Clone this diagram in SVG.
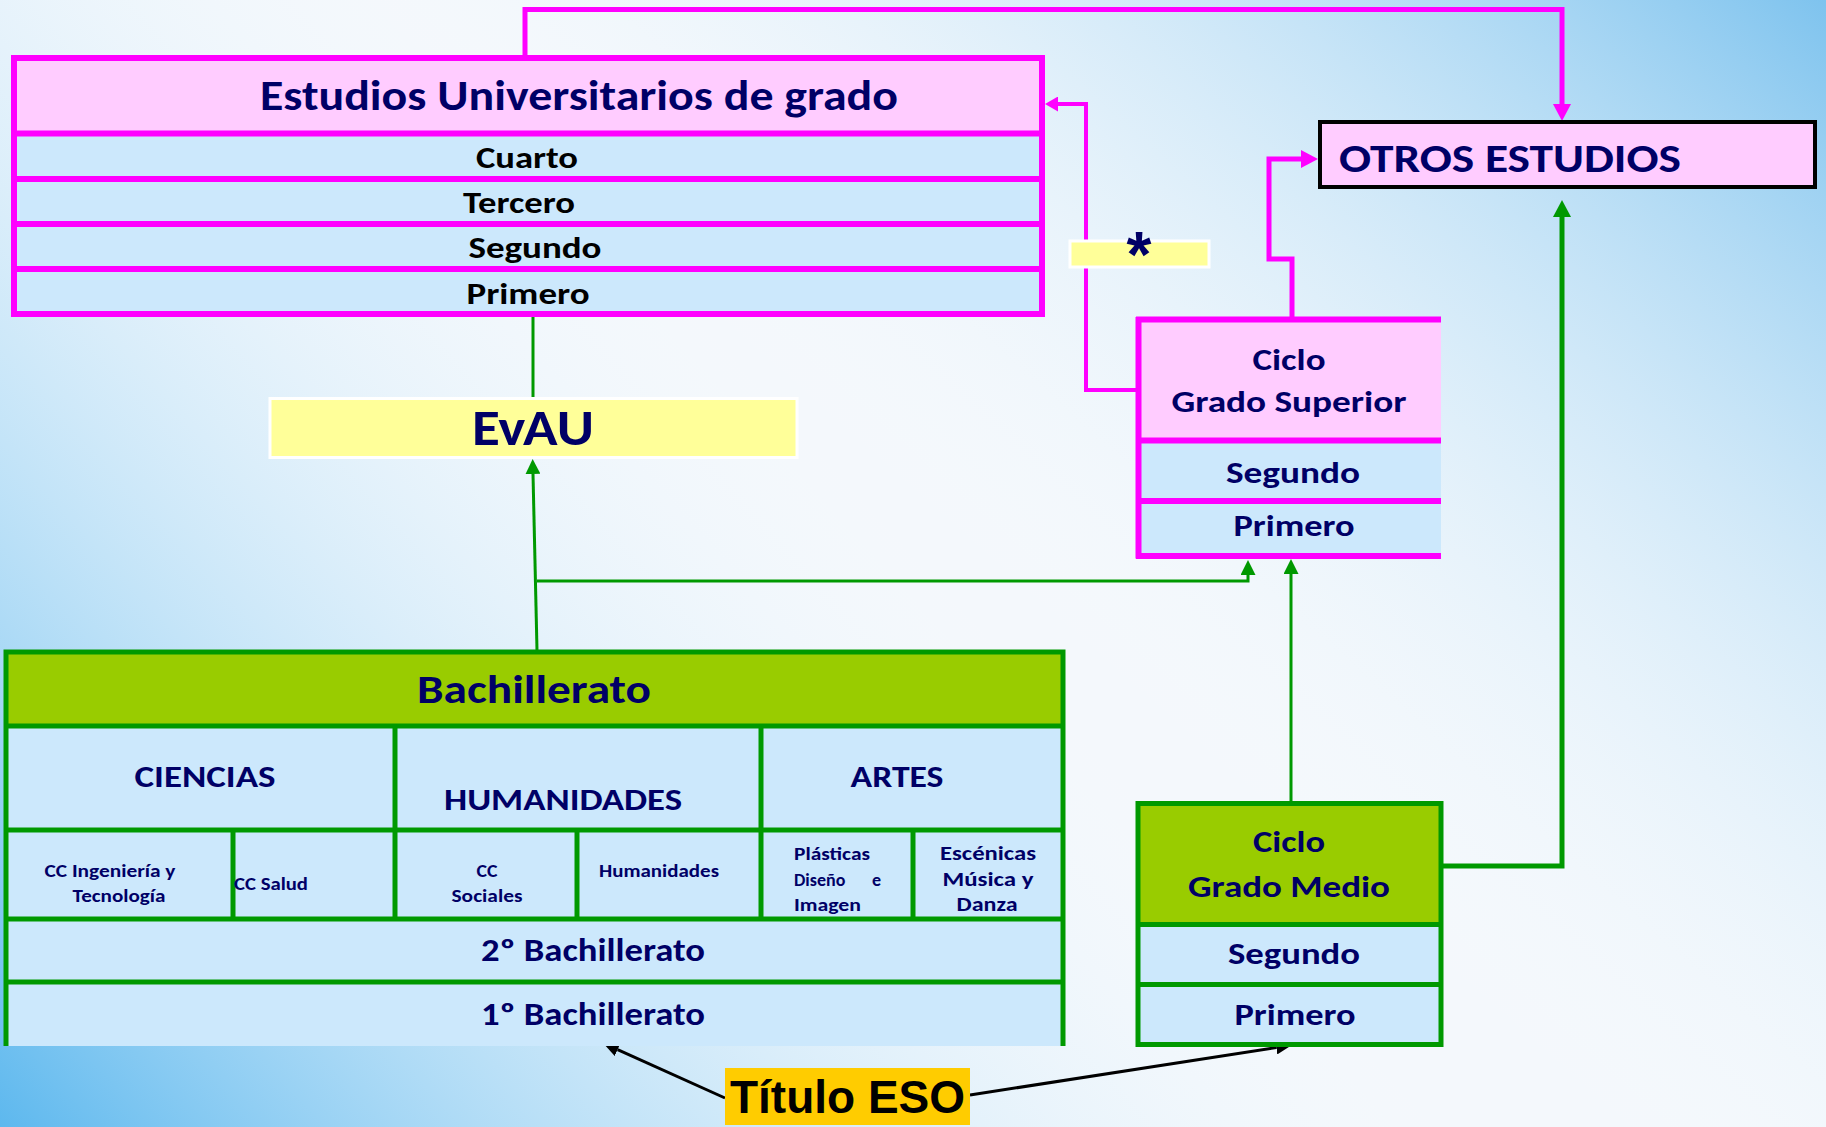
<svg xmlns="http://www.w3.org/2000/svg" width="1826" height="1127" viewBox="0 0 1826 1127">
<defs>
<linearGradient id="bgA" gradientUnits="userSpaceOnUse" x1="0" y1="1127" x2="820" y2="380">
<stop offset="0" stop-color="#5DB8EE" stop-opacity="1"/>
<stop offset="1" stop-color="#FFFFFF" stop-opacity="0"/>
</linearGradient>
<linearGradient id="bgB" gradientUnits="userSpaceOnUse" x1="1826" y1="0" x2="1150" y2="760">
<stop offset="0" stop-color="#7EC3EE" stop-opacity="1"/>
<stop offset="1" stop-color="#FFFFFF" stop-opacity="0"/>
</linearGradient>
<marker id="mP" viewBox="0 0 17 18" refX="0" refY="9" markerWidth="17" markerHeight="18" markerUnits="userSpaceOnUse" orient="auto"><path d="M0,0 L17,9 L0,18 z" fill="#FF00FF"/></marker>
<marker id="mPs" viewBox="0 0 13 15" refX="0" refY="7.5" markerWidth="13" markerHeight="15" markerUnits="userSpaceOnUse" orient="auto"><path d="M0,0 L13,7.5 L0,15 z" fill="#FF00FF"/></marker>
<marker id="mG" viewBox="0 0 15 15" refX="0" refY="7.5" markerWidth="15" markerHeight="15" markerUnits="userSpaceOnUse" orient="auto"><path d="M0,0 L15,7.5 L0,15 z" fill="#009900"/></marker>
<marker id="mGb" viewBox="0 0 17 18" refX="0" refY="9" markerWidth="17" markerHeight="18" markerUnits="userSpaceOnUse" orient="auto"><path d="M0,0 L17,9 L0,18 z" fill="#009900"/></marker>
<marker id="mK" viewBox="0 0 16 14" refX="0" refY="7" markerWidth="16" markerHeight="14" markerUnits="userSpaceOnUse" orient="auto"><path d="M0,0 L16,7 L0,14 z" fill="#000000"/></marker>
</defs>
<style>
.lbl{font-family:Carlito,Lato,"Open Sans","Liberation Sans",sans-serif;font-weight:700;fill:#000066;text-anchor:middle}
.blk{fill:#000000}
.st{text-anchor:start}
.pinkF{fill:#FFCCFF}
.blueF{fill:#CCE8FC}
.greenF{fill:#99CC00}
.pl{stroke:#FF00FF;stroke-width:6;fill:none}
.gl{stroke:#009900;stroke-width:5;fill:none}
.cp{fill:none;stroke:#FF00FF;stroke-linejoin:miter}
.cg{fill:none;stroke:#009900;stroke-linejoin:miter}
.ck{fill:none;stroke:#000000;stroke-width:3}
</style>
<rect x="0" y="0" width="1826" height="1127" fill="#F4F8FC"/>
<rect x="0" y="0" width="1826" height="1127" fill="url(#bgA)"/>
<rect x="0" y="0" width="1826" height="1127" fill="url(#bgB)"/>

<g id="connectors">
<path class="cp" stroke-width="5" d="M525,57 V9.5 H1562 V104" marker-end="url(#mP)"/>
<path class="cp" stroke-width="4" d="M1136,390 H1086 V104 H1058" marker-end="url(#mPs)"/>
<path class="cp" stroke-width="5" d="M1292,317 V259 H1269 V159 H1301" marker-end="url(#mP)"/>
<path class="cg" stroke-width="3" d="M533,317 V398"/>
<path class="cg" stroke-width="3" d="M537,650 L533,474" marker-end="url(#mG)"/>
<path class="cg" stroke-width="3" d="M537,581 H1248 V575" marker-end="url(#mG)"/>
<path class="cg" stroke-width="3" d="M1291,801 V574" marker-end="url(#mG)"/>
<path class="cg" stroke-width="5" d="M1441,866 H1562 V217" marker-end="url(#mGb)"/>
<path class="ck" d="M725,1098 L617.6,1049.6" marker-end="url(#mK)"/>
<path class="ck" d="M970,1095 L1276.2,1047.5" marker-end="url(#mK)"/>
</g>

<g id="n-univ">
<rect class="pinkF" x="14" y="58" width="1028" height="75.5"/>
<rect class="blueF" x="14" y="133.5" width="1028" height="180.5"/>
<rect class="pl" x="14" y="58" width="1028" height="256"/>
<path class="pl" d="M14,133.5 H1042 M14,179 H1042 M14,224 H1042 M14,269 H1042"/>
<text class="lbl" x="579" y="110" font-size="42" textLength="638" lengthAdjust="spacingAndGlyphs">Estudios Universitarios de grado</text>
<text class="lbl blk" x="527" y="168" font-size="31" textLength="102" lengthAdjust="spacingAndGlyphs">Cuarto</text>
<text class="lbl blk" x="519" y="213" font-size="31" textLength="112" lengthAdjust="spacingAndGlyphs">Tercero</text>
<text class="lbl blk" x="535" y="258" font-size="31" textLength="133" lengthAdjust="spacingAndGlyphs">Segundo</text>
<text class="lbl blk" x="528" y="304" font-size="31" textLength="123" lengthAdjust="spacingAndGlyphs">Primero</text>
</g>

<g id="n-evau">
<rect x="270" y="398.5" width="527" height="59" fill="#FFFF99" stroke="#FFFFFF" stroke-width="3"/>
<text class="lbl" x="533" y="445" font-size="50" textLength="122" lengthAdjust="spacingAndGlyphs">EvAU</text>
</g>

<g id="n-star">
<rect x="1070" y="241" width="139" height="26" fill="#FFFF99" stroke="#FFFFFF" stroke-width="3"/>
<text class="lbl" x="1139" y="277" font-size="64" style="font-family:'Liberation Sans',sans-serif">*</text>
</g>

<g id="n-otros">
<rect x="1320" y="122" width="495" height="65" fill="#FFCCFF" stroke="#000000" stroke-width="4"/>
<text class="lbl st" x="1339" y="172" font-size="40" textLength="342" lengthAdjust="spacingAndGlyphs">OTROS ESTUDIOS</text>
</g>

<g id="n-gs">
<rect class="pinkF" x="1138.5" y="319.5" width="302.5" height="121"/>
<rect class="blueF" x="1138.5" y="440.5" width="302.5" height="115.5"/>
<path class="pl" stroke-width="5" d="M1136,319.5 H1441 M1138.5,317 V558.5 M1138.5,440.5 H1441 M1138.5,501 H1441 M1136,556 H1441"/>
<text class="lbl" x="1289" y="370" font-size="31" textLength="73" lengthAdjust="spacingAndGlyphs">Ciclo</text>
<text class="lbl" x="1289" y="412" font-size="31" textLength="235" lengthAdjust="spacingAndGlyphs">Grado Superior</text>
<text class="lbl" x="1293" y="483" font-size="31" textLength="134" lengthAdjust="spacingAndGlyphs">Segundo</text>
<text class="lbl" x="1294" y="536" font-size="31" textLength="121" lengthAdjust="spacingAndGlyphs">Primero</text>
</g>

<g id="n-gm">
<rect class="greenF" x="1138" y="803.5" width="303" height="121"/>
<rect class="blueF" x="1138" y="924.5" width="303" height="120"/>
<rect class="gl" x="1138" y="803.5" width="303" height="241"/>
<path class="gl" d="M1138,924.5 H1441 M1138,984.5 H1441"/>
<text class="lbl" x="1289" y="852" font-size="31" textLength="72" lengthAdjust="spacingAndGlyphs">Ciclo</text>
<text class="lbl" x="1289" y="897" font-size="31" textLength="202" lengthAdjust="spacingAndGlyphs">Grado Medio</text>
<text class="lbl" x="1294" y="964" font-size="31" textLength="132" lengthAdjust="spacingAndGlyphs">Segundo</text>
<text class="lbl" x="1295" y="1025" font-size="31" textLength="121" lengthAdjust="spacingAndGlyphs">Primero</text>
</g>

<g id="n-bach">
<rect class="greenF" x="6" y="652" width="1057" height="74"/>
<rect class="blueF" x="6" y="726" width="1057" height="320"/>
<path class="gl" d="M3.5,652 H1065.5 M6,652 V1046 M1063,652 V1046 M6,726 H1063 M6,830 H1063 M6,919 H1063 M6,982 H1063 M395,726 V919 M761,726 V919 M233,830 V919 M577,830 V919 M913,830 V919"/>
<text class="lbl" x="534" y="703" font-size="40" textLength="234" lengthAdjust="spacingAndGlyphs">Bachillerato</text>
<text class="lbl" x="205" y="787" font-size="31" textLength="141" lengthAdjust="spacingAndGlyphs">CIENCIAS</text>
<text class="lbl" x="563" y="810" font-size="31" textLength="238" lengthAdjust="spacingAndGlyphs">HUMANIDADES</text>
<text class="lbl" x="897" y="787" font-size="31" textLength="93" lengthAdjust="spacingAndGlyphs">ARTES</text>
<text class="lbl" x="110" y="877" font-size="18" textLength="131" lengthAdjust="spacingAndGlyphs">CC Ingeniería y</text>
<text class="lbl" x="119" y="902" font-size="18" textLength="93" lengthAdjust="spacingAndGlyphs">Tecnología</text>
<text class="lbl st" x="234" y="890" font-size="18" textLength="74" lengthAdjust="spacingAndGlyphs">CC Salud</text>
<text class="lbl" x="487" y="877" font-size="18" textLength="21" lengthAdjust="spacingAndGlyphs">CC</text>
<text class="lbl" x="487" y="902" font-size="18" textLength="71" lengthAdjust="spacingAndGlyphs">Sociales</text>
<text class="lbl" x="659" y="877" font-size="18" textLength="120" lengthAdjust="spacingAndGlyphs">Humanidades</text>
<text class="lbl st" x="794" y="860" font-size="18" textLength="76" lengthAdjust="spacingAndGlyphs">Plásticas</text>
<text class="lbl st" y="886" font-size="18"><tspan x="794">Diseño</tspan><tspan x="872">e</tspan></text>
<text class="lbl st" x="794" y="911" font-size="18" textLength="67" lengthAdjust="spacingAndGlyphs">Imagen</text>
<text class="lbl" x="988" y="860" font-size="20" textLength="96" lengthAdjust="spacingAndGlyphs">Escénicas</text>
<text class="lbl" x="988" y="886" font-size="20" textLength="91" lengthAdjust="spacingAndGlyphs">Música y</text>
<text class="lbl" x="987" y="911" font-size="20" textLength="61" lengthAdjust="spacingAndGlyphs">Danza</text>
<text class="lbl" x="593" y="961" font-size="32" textLength="224" lengthAdjust="spacingAndGlyphs">2º Bachillerato</text>
<text class="lbl" x="593" y="1025" font-size="32" textLength="224" lengthAdjust="spacingAndGlyphs">1º Bachillerato</text>
</g>

<g id="n-titulo">
<rect x="725" y="1068" width="245" height="57" fill="#FFCC00"/>
<text x="730" y="1113" font-size="46" font-family="'Liberation Sans',Arial,sans-serif" font-weight="700" fill="#000000" textLength="235" lengthAdjust="spacingAndGlyphs">Título ESO</text>
</g>
</svg>
